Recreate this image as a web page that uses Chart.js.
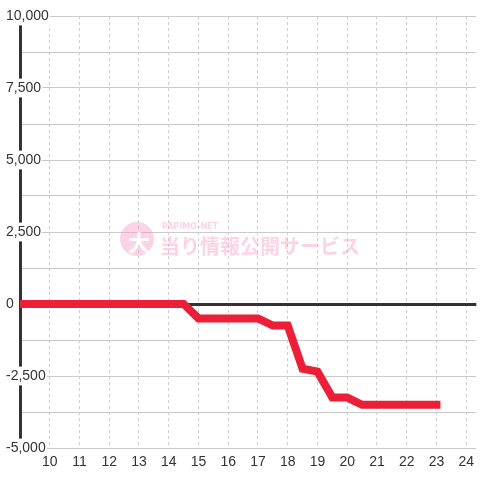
<!DOCTYPE html>
<html>
<head>
<meta charset="utf-8">
<script src="https://cdn.jsdelivr.net/npm/chart.js@4/dist/chart.umd.min.js"></script>
<style>
html, body { margin: 0; padding: 0; background: #fff; }
#wrap { width: 480px; height: 480px; }
</style>
</head>
<body>
<div id="wrap"><canvas id="chart"></canvas></div>
<script>
// ---------------- Data ----------------
const hours = [9, 9.5, 10, 10.5, 11, 11.5, 12, 12.5, 13, 13.5, 14, 14.5,
               15, 15.5, 16, 16.5, 17, 17.5, 18, 18.5, 19, 19.5, 20, 20.5,
               21, 21.5, 22, 22.5, 23];
const balance = [0, 0, 0, 0, 0, 0, 0, 0, 0, 0, 0, 0,
                 -500, -500, -500, -500, -500, -750, -750, -2250, -2350, -3250, -3250, -3500,
                 -3500, -3500, -3500, -3500, -3500];
const xTicks = [10, 11, 12, 13, 14, 15, 16, 17, 18, 19, 20, 21, 22, 23, 24];
const yTicks = [-5000, -3750, -2500, -1250, 0, 1250, 2500, 3750, 5000, 6250, 7500, 8750, 10000];
const yLabelStep = 2500;

// ---------------- Watermark ----------------
const watermark = {
    id: "watermark",
    beforeDatasetsDraw(chart) {
        const ctx = chart.ctx;
        ctx.save();
        ctx.fillStyle = "rgba(248, 150, 195, 0.42)";
        ctx.beginPath();
        ctx.arc(137, 239, 17, 0, Math.PI * 2);
        ctx.fill();
        ctx.fillStyle = "#fff";
        ctx.font = "bold 22px 'Noto Sans CJK JP'";
        ctx.textAlign = "center";
        ctx.textBaseline = "middle";
        ctx.fillText("大", 139, 243);
        ctx.fillStyle = "rgba(248, 150, 195, 0.42)";
        ctx.textAlign = "left";
        ctx.font = "bold 8px 'DejaVu Sans'";
        ctx.fillText("PAPIMO-NET", 162, 227);
        ctx.font = "bold 20px 'Noto Sans CJK JP'";
        ctx.fillText("当り情報公開サービス", 160, 246);
        ctx.restore();
    }
};

// ---------------- Chart ----------------
const ctx = document.getElementById("chart").getContext("2d");

new Chart(ctx, {
    type: "line",
    data: {
        datasets: [{
            data: hours.map((h, i) => ({ x: h, y: balance[i] })),
            borderColor: "#ec1f38",
            borderWidth: 8,
            borderCapStyle: "square",
            pointRadius: 0,
            tension: 0,
            fill: false
        }]
    },
    options: {
        responsive: true,
        maintainAspectRatio: false,
        animation: false,
        layout: { padding: { left: 6, top: 16, right: 0, bottom: 0 } },
        plugins: {
            legend: { display: false },
            tooltip: { enabled: false }
        },
        scales: {
            x: {
                type: "linear",
                min: 9,
                max: 24.34,
                afterBuildTicks: scale => { scale.ticks = xTicks.map(v => ({ value: v })); },
                afterFit: scale => { scale.height = 32; },
                grid: { color: "#cccccc", lineWidth: 1, drawTicks: false },
                border: { display: false, dash: [3, 3] },
                ticks: {
                    z: 1,
                    padding: 6,
                    color: "#333",
                    font: { family: "'Liberation Sans', Arial, sans-serif", size: 14 },
                    maxRotation: 0,
                    autoSkip: false
                }
            },
            y: {
                min: -5000,
                max: 10000,
                afterBuildTicks: scale => { scale.ticks = yTicks.map(v => ({ value: v })); },
                afterFit: scale => { scale.width = 14; },
                grid: {
                    color: c => (c.tick && c.tick.value === 0 ? "#333" : "#cacaca"),
                    lineWidth: c => (c.tick && c.tick.value === 0 ? 3 : 1),
                    drawTicks: false
                },
                border: { color: "#333", width: 3 },
                ticks: {
                    mirror: true,
                    padding: -14,
                    color: "#333",
                    font: { family: "'Liberation Sans', Arial, sans-serif", size: 14 },
                    callback: v => (v % yLabelStep === 0 ? v.toLocaleString("en-US") : ""),
                    showLabelBackdrop: c => c.tick.value % yLabelStep === 0,
                    backdropColor: "#fff",
                    backdropPadding: 1
                }
            }
        }
    },
    plugins: [watermark]
});
</script>
</body>
</html>
